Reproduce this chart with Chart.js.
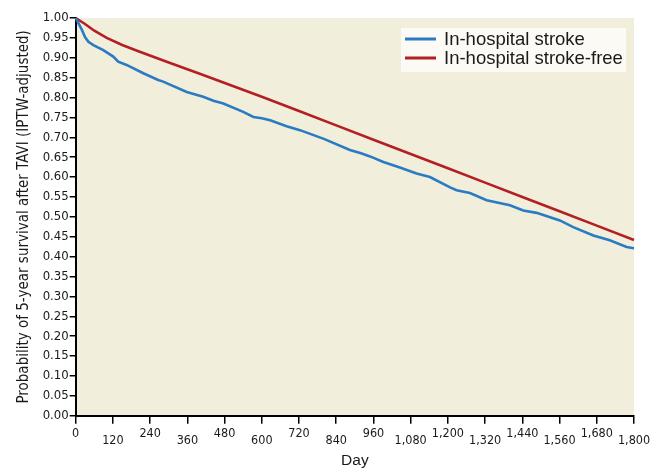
<!DOCTYPE html>
<html>
<head>
<meta charset="utf-8">
<script src="https://cdn.jsdelivr.net/npm/chart.js@4/dist/chart.umd.min.js"></script>
<style>
html,body{margin:0;padding:0;background:#ffffff;}
#wrap{width:661px;height:473px;}
</style>
</head>
<body>
<div id="wrap"><canvas id="c" width="661" height="473"></canvas></div>
<script>
// Series: In-hospital stroke (blue)
const strokeDays = [0,10,20,30,41,57,89,121,137,164,218,266,282,358,411,444,476,540,573,600,627,680,723,800,884,920,949,992,1045,1099,1142,1207,1228,1271,1325,1400,1443,1486,1561,1604,1669,1722,1776,1800];
const strokeSurv = [1.000,0.985,0.970,0.952,0.940,0.932,0.919,0.903,0.890,0.882,0.861,0.844,0.840,0.814,0.802,0.792,0.785,0.764,0.751,0.748,0.743,0.728,0.718,0.696,0.668,0.660,0.652,0.638,0.624,0.609,0.600,0.574,0.567,0.560,0.542,0.529,0.516,0.510,0.491,0.474,0.453,0.441,0.424,0.421];
// Series: In-hospital stroke-free (red)
const freeDays = [0,30,60,100,150,200,300,400,500,600,720,840,960,1080,1200,1320,1440,1560,1680,1800];
const freeSurv = [1.000,0.985,0.968,0.950,0.932,0.917,0.888,0.860,0.831,0.802,0.766,0.730,0.694,0.658,0.622,0.586,0.550,0.514,0.478,0.442];
const seriesLabels = ['In-hospital stroke','In-hospital stroke-free'];
const xAxisTitle = 'Day';
const yAxisTitle = 'Probability of 5-year survival after TAVI (IPTW-adjusted)';

const toPts = (xs, ys) => xs.map((x, i) => ({x: x, y: ys[i]}));

const bgPlugin = {
  id: 'plotBg',
  beforeDraw(chart) {
    const {ctx, chartArea: a} = chart;
    ctx.save();
    ctx.fillStyle = '#f2eedc';
    ctx.fillRect(a.left, a.top, a.right - a.left, a.bottom - a.top);
    ctx.restore();
  }
};

const legendPlugin = {
  id: 'insideLegend',
  afterDraw(chart) {
    const ctx = chart.ctx;
    const x0 = 401, y0 = 28, w = 225, h = 44;
    ctx.save();
    ctx.fillStyle = '#fbfaf4';
    ctx.fillRect(x0, y0, w, h);
    ctx.font = '18.5px "Liberation Sans", Arial, sans-serif';
    ctx.textBaseline = 'middle';
    chart.data.datasets.forEach((ds, i) => {
      const yy = y0 + 11 + i * 19;
      ctx.strokeStyle = ds.borderColor;
      ctx.lineWidth = 3;
      ctx.beginPath();
      ctx.moveTo(405, yy);
      ctx.lineTo(436, yy);
      ctx.stroke();
      ctx.fillStyle = '#1a1a1a';
      ctx.fillText(ds.label, 444, yy + 1);
    });
    ctx.restore();
  }
};

new Chart(document.getElementById('c'), {
  type: 'line',
  data: {
    datasets: [
      {label: seriesLabels[0], data: toPts(strokeDays, strokeSurv), borderColor: '#2a7bc2', borderWidth: 2.6, pointRadius: 0, tension: 0, clip: false},
      {label: seriesLabels[1], data: toPts(freeDays, freeSurv), borderColor: '#b21f24', borderWidth: 2.6, pointRadius: 0, tension: 0, clip: false}
    ]
  },
  options: {
    responsive: false,
    animation: false,
    events: [],
    layout: {padding: {top: 18, right: 27, left: 0, bottom: 0}},
    plugins: {legend: {display: false}, tooltip: {enabled: false}},
    scales: {
      x: {
        type: 'linear',
        min: 0, max: 1800,
        afterFit(s) { s.height = 57.3; },
        ticks: {
          stepSize: 120,
          autoSkip: false,
          maxRotation: 0,
          padding: 6.5,
          color: '#1a1a1a',
          font: {family: '"DejaVu Sans Condensed", "DejaVu Sans", sans-serif', size: 12.5, lineHeight: 0.58},
          callback(v, i) {
            const s = Number(v).toLocaleString('en-US');
            return i % 2 === 0 ? s : ['', s];
          }
        },
        grid: {drawOnChartArea: false, drawTicks: true, tickLength: 8, color: '#000', lineWidth: 1.5},
        border: {display: true, color: '#000', width: 2},
        title: {display: true, text: xAxisTitle, color: '#1a1a1a', font: {family: '"Liberation Sans", Arial, sans-serif', size: 15.5}, padding: {top: 0, bottom: 3}}
      },
      y: {
        min: 0, max: 1,
        afterFit(s) { s.width = 75.7; },
        ticks: {
          stepSize: 0.05,
          autoSkip: false,
          padding: 1,
          color: '#1a1a1a',
          font: {family: '"DejaVu Sans Condensed", "DejaVu Sans", sans-serif', size: 13},
          callback(v) { return Number(v).toFixed(2); }
        },
        grid: {drawOnChartArea: false, drawTicks: true, tickLength: 6, color: '#000', lineWidth: 1.5},
        border: {display: true, color: '#000', width: 2},
        title: {display: true, text: yAxisTitle, color: '#1a1a1a', font: {family: '"DejaVu Sans Condensed", "DejaVu Sans", sans-serif', size: 15}, padding: {top: 15.5, bottom: 0}}
      }
    }
  },
  plugins: [bgPlugin, legendPlugin]
});
</script>
</body>
</html>
